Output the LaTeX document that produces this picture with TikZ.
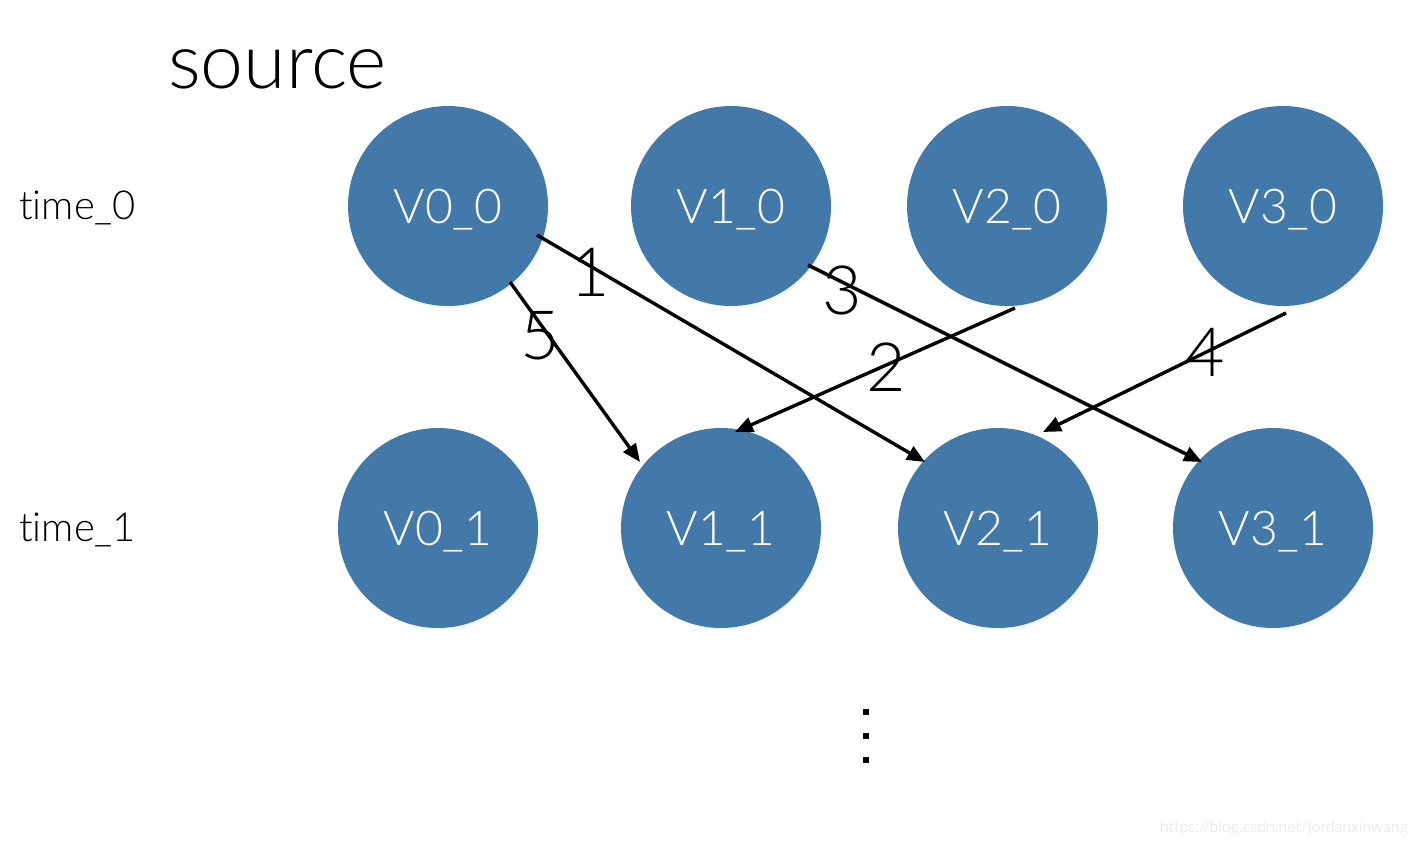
\documentclass[tikz,border=0pt]{standalone}
\usepackage{fontspec}
\setmainfont{Lato}[UprightFont=* Light,Ligatures=NoCommon]
\usetikzlibrary{calc,arrows.meta,shadows}
\definecolor{nodeblue}{RGB}{67,121,169}
\definecolor{wm}{RGB}{225,225,225}
\newcommand{\lowtxt}[1]{\raisebox{-3.5pt}[\height][\depth]{#1}}
\begin{document}
\begin{tikzpicture}[x=1pt,y=-1pt,
  vnode/.style={circle,fill=nodeblue,minimum size=200pt,inner sep=0pt,text=white,
    font=\fontsize{48}{48}\selectfont,
    circular drop shadow={opacity=0.35,shadow xshift=2pt,shadow yshift=-3pt,shadow scale=1.0}},
  edge/.style={line width=3.4pt,-{Triangle[length=18pt,width=15pt]}},
  num/.style={font=\fontsize{68}{68}\selectfont,text=black,inner sep=0pt},
  tlabel/.style={font=\fontsize{40}{40}\selectfont,anchor=west,inner sep=0pt},
  dotsq/.style={fill=black}]
\path[use as bounding box] (0,0) rectangle (1416,846);
\node[font=\fontsize{77}{77}\selectfont,anchor=west,inner sep=0pt] (src) at (168,69) {source};
\node[tlabel] (t0) at (19,208) {time\_0};
\node[tlabel] (t1) at (19,530) {time\_1};
\node[vnode] (V00) at (448,206) {\lowtxt{V0\_0}};
\node[vnode] (V10) at (731,206) {\lowtxt{V1\_0}};
\node[vnode] (V20) at (1007,206) {\lowtxt{V2\_0}};
\node[vnode] (V30) at (1283,206) {\lowtxt{V3\_0}};
\node[vnode] (V01) at (438,528) {\lowtxt{V0\_1}};
\node[vnode] (V11) at (721,528) {\lowtxt{V1\_1}};
\node[vnode] (V21) at (998,528) {\lowtxt{V2\_1}};
\node[vnode] (V31) at (1273,528) {\lowtxt{V3\_1}};
\draw[edge] ($(V00)+(62,76)$) -- ($(V11)+(-81,-66)$);
\draw[edge] ($(V00)+(89,29)$) -- ($(V21)+(-73,-66)$);
\draw[edge] ($(V10)+(77,59)$) -- ($(V31)+(-71,-66)$);
\draw[edge] ($(V20)+(8,102)$) -- ($(V11)+(14,-96)$);
\draw[edge] ($(V30)+(3,107)$) -- ($(V21)+(45,-96)$);
\node[num] (n1) at (590,272) {1};
\node[num] (n3) at (842,290) {3};
\node[num] (n5) at (540,336) {5};
\node[num] (n2) at (886,367) {2};
\node[num] (n4) at (1205,352) {4};
\fill[dotsq] (863,709) rectangle (869,715);
\fill[dotsq] (863,733) rectangle (869,739);
\fill[dotsq] (863,757) rectangle (869,763);
\node[text=wm,font=\fontsize{16}{16}\selectfont,anchor=east,inner sep=0pt] (wmk) at (1408,828) {https://blog.csdn.net/jordanxinwang};
\end{tikzpicture}
\end{document}
